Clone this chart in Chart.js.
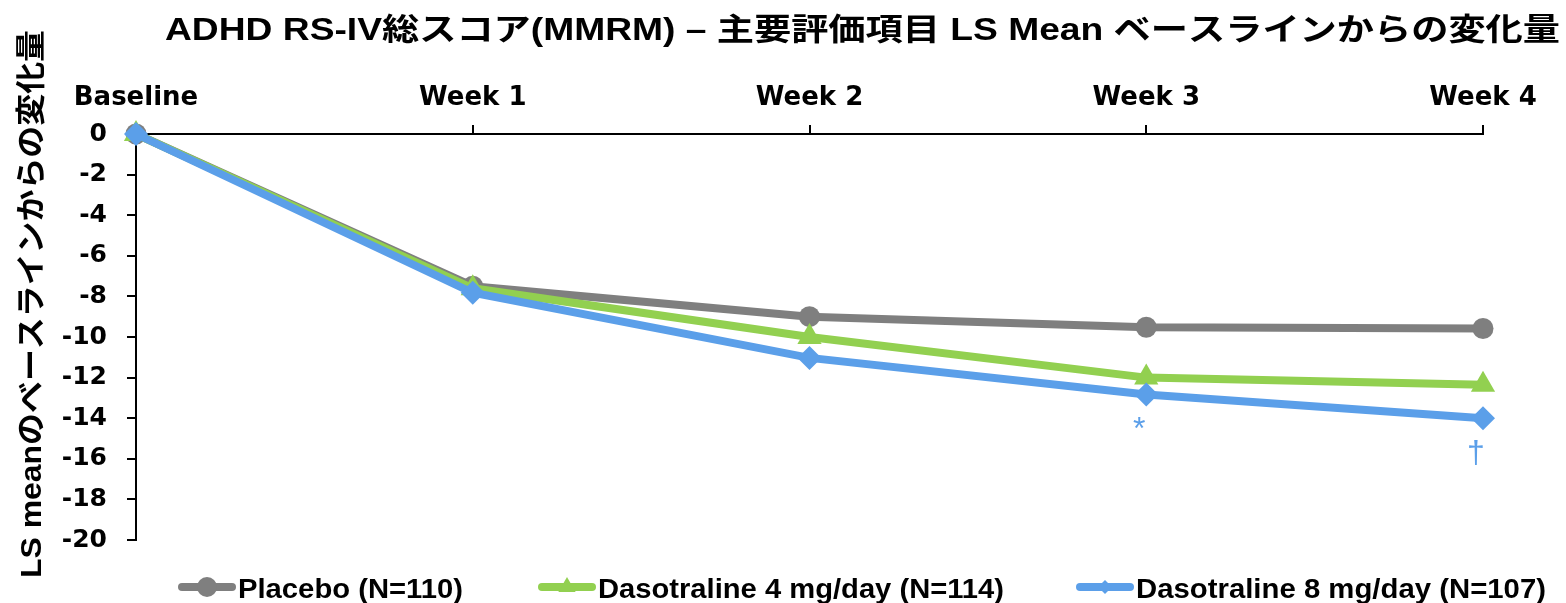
<!DOCTYPE html>
<html><head><meta charset="utf-8">
<script src="https://cdn.jsdelivr.net/npm/chart.js@4/dist/chart.umd.min.js"></script>
<style>html,body{margin:0;padding:0;background:#fff;overflow:hidden}</style>
</head><body>
<canvas id="c" width="1566" height="603"></canvas>
<script>
// ---- data ----
const categories = ['Baseline', 'Week 1', 'Week 2', 'Week 3', 'Week 4'];
const placebo = [0, -7.5, -9.0, -9.52, -9.58];
const dasotraline4 = [0, -7.6, -10.0, -12.0, -12.35];
const dasotraline8 = [0, -7.82, -11.03, -12.83, -14.0];
const seriesNames = ['Placebo (N=110)', 'Dasotraline 4 mg/day (N=114)', 'Dasotraline 8 mg/day (N=107)'];
const yTickValues = [0, -2, -4, -6, -8, -10, -12, -14, -16, -18, -20];
const significance8 = [null, null, null, '*', '†'];
const titleText = 'ADHD RS-IV総スコア(MMRM) – 主要評価項目 LS Mean ベースラインからの変化量';
const yTitleText = 'LS meanのベースラインからの変化量';

// ---- styles ----
const GRAY = '#7f7f7f', GREEN = '#92d050', BLUE = '#5b9fe9';
const LATIN = '"Liberation Sans", Arial, "Noto Sans CJK JP", sans-serif';
const TOP = 60;

function drawStretched(ctx, text, x, y, font, color, targetWidth) {
  ctx.save();
  ctx.font = font; ctx.fillStyle = color;
  ctx.textAlign = 'left'; ctx.textBaseline = 'alphabetic';
  const w = ctx.measureText(text).width;
  ctx.translate(x, y); ctx.scale(targetWidth / w, 1);
  ctx.fillText(text, 0, 0);
  ctx.restore();
}

function drawMarker(ctx, style, x, y, r, color) {
  ctx.save();
  ctx.fillStyle = color;
  ctx.beginPath();
  if (style === 'circle') ctx.arc(x, y, r, 0, Math.PI * 2);
  else if (style === 'triangle') {
    ctx.moveTo(x, y - r);
    ctx.lineTo(x + r * 0.866, y + r / 2);
    ctx.lineTo(x - r * 0.866, y + r / 2);
    ctx.closePath();
  } else {
    ctx.moveTo(x - r, y); ctx.lineTo(x, y - r); ctx.lineTo(x + r, y); ctx.lineTo(x, y + r); ctx.closePath();
  }
  ctx.fill();
  ctx.restore();
}

const textPlugin = {
  id: 'texts',
  afterDraw(chart) {
    const ctx = chart.ctx;
    // title
    drawStretched(ctx, titleText, 165, 40, 'bold 31px ' + LATIN, '#000', 1395);
    // y title (rotated)
    ctx.save();
    ctx.translate(41, 578);
    ctx.rotate(-Math.PI / 2);
    drawStretched(ctx, yTitleText, 0, 0, 'bold 30px ' + LATIN, '#000', 548);
    ctx.restore();
    // legend
    const items = [
      { name: seriesNames[0], color: GRAY, style: 'circle', r: 10, x: 178, w: 225 },
      { name: seriesNames[1], color: GREEN, style: 'triangle', r: 10, x: 538, w: 406 },
      { name: seriesNames[2], color: BLUE, style: 'diamond', r: 7, x: 1076, w: 410 }
    ];
    const ly = 587;
    items.forEach(it => {
      ctx.save();
      ctx.strokeStyle = it.color; ctx.lineWidth = 8; ctx.lineCap = 'round';
      ctx.beginPath(); ctx.moveTo(it.x + 4, ly); ctx.lineTo(it.x + 54, ly); ctx.stroke();
      ctx.restore();
      drawMarker(ctx, it.style, it.x + 29, ly, it.r, it.color);
      drawStretched(ctx, it.name, it.x + 60, 598, 'bold 27px ' + LATIN, '#000', it.w);
    });
  },
  afterDatasetsDraw(chart) {
    const ctx = chart.ctx;
    const xs = chart.scales.x, ys = chart.scales.y;
    ctx.save();
    ctx.fillStyle = BLUE;
    ctx.font = '32px ' + LATIN;
    ctx.textAlign = 'center'; ctx.textBaseline = 'alphabetic';
    significance8.forEach((s, i) => {
      if (!s) return;
      ctx.fillText(s, xs.getPixelForValue(i) - 7, ys.getPixelForValue(dasotraline8[i]) + 45);
    });
    ctx.restore();
  }
};

const tickGrid = { display: true, drawOnChartArea: false, drawTicks: true, tickLength: 9, color: '#000', lineWidth: 2 };

new Chart(document.getElementById('c'), {
  type: 'line',
  data: {
    labels: categories,
    datasets: [
      { label: seriesNames[0], data: placebo, borderColor: GRAY, backgroundColor: GRAY, borderWidth: 8,
        pointStyle: 'circle', pointRadius: 10.5, pointBorderWidth: 0, order: 2, clip: false },
      { label: seriesNames[1], data: dasotraline4, borderColor: GREEN, backgroundColor: GREEN, borderWidth: 8,
        pointStyle: 'triangle', pointRadius: 14, pointBorderWidth: 0, order: 1, clip: false },
      { label: seriesNames[2], data: dasotraline8, borderColor: BLUE, backgroundColor: BLUE, borderWidth: 8,
        pointStyle: 'rectRot', pointRadius: 12, pointBorderWidth: 0, order: 0, clip: false }
    ]
  },
  options: {
    responsive: false,
    animation: false,
    events: [],
    layout: { padding: { left: 0, top: TOP, right: 83, bottom: 63 } },
    plugins: { legend: { display: false }, title: { display: false }, tooltip: { enabled: false } },
    elements: { line: { tension: 0 } },
    scales: {
      x: {
        type: 'category', position: 'top', offset: false,
        grid: tickGrid,
        border: { display: true, color: '#000', width: 2 },
        ticks: { color: '#000', font: { family: '"DejaVu Sans"', weight: 'bold', size: 26 }, padding: 11, maxRotation: 0, autoSkip: false },
        afterFit(s) { s.height = 134 - TOP; s.paddingLeft = 0; s.paddingRight = 0; }
      },
      y: {
        min: -20, max: 0,
        grid: tickGrid,
        border: { display: true, color: '#000', width: 2 },
        ticks: { color: '#000', font: { family: '"DejaVu Sans"', weight: 'bold', size: 25 }, padding: 20, stepSize: 2,
                 callback: v => String(v) },
        afterBuildTicks(s) { s.ticks = yTickValues.map(v => ({ value: v })); },
        afterFit(s) { s.width = 136; s.paddingTop = 0; s.paddingBottom = 0; }
      }
    }
  },
  plugins: [textPlugin]
});
</script>
</body></html>
